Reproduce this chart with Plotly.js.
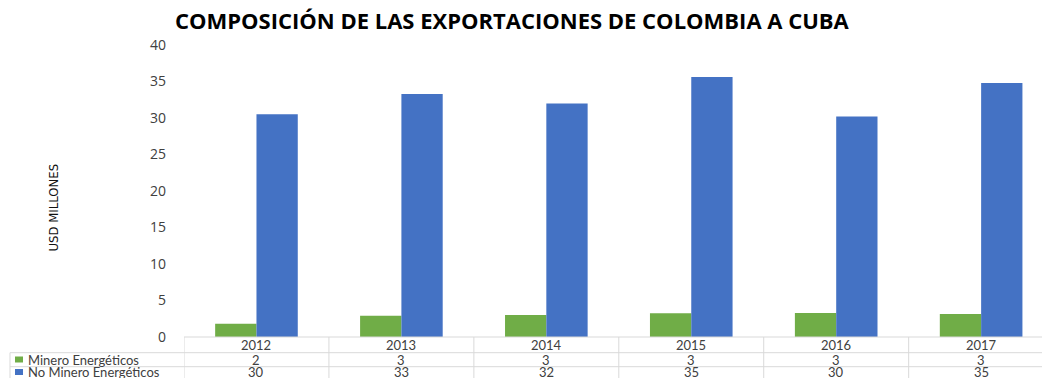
<!DOCTYPE html>
<html>
<head>
<meta charset="utf-8">
<script src="https://cdn.plot.ly/plotly-3.0.1.min.js"></script>
<style>html,body{margin:0;padding:0;background:#fff;}#chart{width:1042px;height:378px;}</style>
</head>
<body>
<div id="chart"></div>
<script>
const years = ['2012', '2013', '2014', '2015', '2016', '2017'];
const seriesNames = ['Minero Energéticos', 'No Minero Energéticos'];
const mineroValues = [1.8, 2.9, 3.0, 3.25, 3.3, 3.15];
const noMineroValues = [30.5, 33.3, 32.0, 35.6, 30.2, 34.8];
const mineroTable = ['2', '3', '3', '3', '3', '3'];
const noMineroTable = ['30', '33', '32', '35', '30', '35'];
const yTicks = [0, 5, 10, 15, 20, 25, 30, 35, 40];
const colors = ['#70ad47', '#4472c4'];

const L = 184, W = 1042 - L, T = 45, H = 292;
const px = v => (v - L) / W;          // pixel x -> paper
const py = v => (T + H - v) / H;      // pixel y -> paper

const traces = [
  {type: 'bar', x: years, y: mineroValues, name: seriesNames[0], marker: {color: colors[0]}},
  {type: 'bar', x: years, y: noMineroValues, name: seriesNames[1], marker: {color: colors[1]}}
];

const gridColor = '#d9d9d9';
const shapes = [];
const annotations = [];
shapes.push({type: 'line', xref: 'paper', yref: 'paper', x0: 0, x1: px(1060), y0: 0, y1: 0, line: {color: gridColor, width: 1}});
[352.7, 366.7].forEach(yy => shapes.push({type: 'line', xref: 'paper', yref: 'paper', x0: px(10), x1: px(1060), y0: py(yy), y1: py(yy), line: {color: gridColor, width: 1}}));
for (let i = 0; i < years.length; i++) {
  shapes.push({type: 'line', xref: 'x', yref: 'paper', x0: i - 0.5, x1: i - 0.5, y0: 0, y1: py(380), line: {color: gridColor, width: 1}});
}
shapes.push({type: 'line', xref: 'paper', yref: 'paper', x0: px(10), x1: px(10), y0: py(352.7), y1: py(380), line: {color: gridColor, width: 1}});
[359.5, 372].forEach((yy, k) => shapes.push({type: 'rect', xref: 'paper', yref: 'paper', x0: px(15), x1: px(23), y0: py(yy + 3), y1: py(yy - 3), line: {width: 0}, fillcolor: colors[k]}));

const tf = {family: 'Lato, Carlito, "Open Sans", sans-serif', size: 13, color: '#404040'};
const base = {showarrow: false, font: tf, yanchor: 'middle', borderpad: 0};
years.forEach((yr, i) => {
  annotations.push(Object.assign({xref: 'x', yref: 'paper', x: i, y: py(345), text: yr}, base));
  annotations.push(Object.assign({xref: 'x', yref: 'paper', x: i, y: py(359.5), text: mineroTable[i]}, base));
  annotations.push(Object.assign({xref: 'x', yref: 'paper', x: i, y: py(372), text: noMineroTable[i]}, base));
});
seriesNames.forEach((n, k) => annotations.push(Object.assign({xref: 'paper', yref: 'paper', x: px(27), y: py(k === 0 ? 359.5 : 372), xanchor: 'left', text: n}, base)));
annotations.push({xref: 'paper', yref: 'paper', x: px(43), y: py(208), text: 'USD MILLONES', textangle: -90, showarrow: false,
  font: {family: '"Liberation Sans Narrow", "DejaVu Sans Condensed", sans-serif', size: 13, color: '#111'}});
annotations.push({xref: 'paper', yref: 'paper', x: px(512), y: py(20), text: '<b>COMPOSICIÓN DE LAS EXPORTACIONES DE COLOMBIA A CUBA</b>', showarrow: false,
  font: {family: '"Open Sans", Lato, sans-serif', size: 22, color: '#000'}, yanchor: 'middle'});

const layout = {
  width: 1042, height: 378,
  margin: {l: L, r: 0, t: T, b: 378 - T - H, pad: 0},
  paper_bgcolor: '#fff', plot_bgcolor: '#fff',
  showlegend: false,
  barmode: 'group', bargap: 0.43, bargroupgap: 0,
  xaxis: {type: 'category', range: [-0.5, 5.42], showticklabels: false, showgrid: false, zeroline: false, showline: false, ticks: ''},
  yaxis: {range: [0, 40], tickvals: yTicks, showgrid: false, zeroline: false, showline: false, ticks: '',
    ticklabelstandoff: 17, tickfont: {family: '"Open Sans", sans-serif', size: 14, color: '#404040'}},
  shapes: shapes,
  annotations: annotations
};

Plotly.newPlot('chart', traces, layout, {displayModeBar: false, staticPlot: true});
</script>
</body>
</html>
